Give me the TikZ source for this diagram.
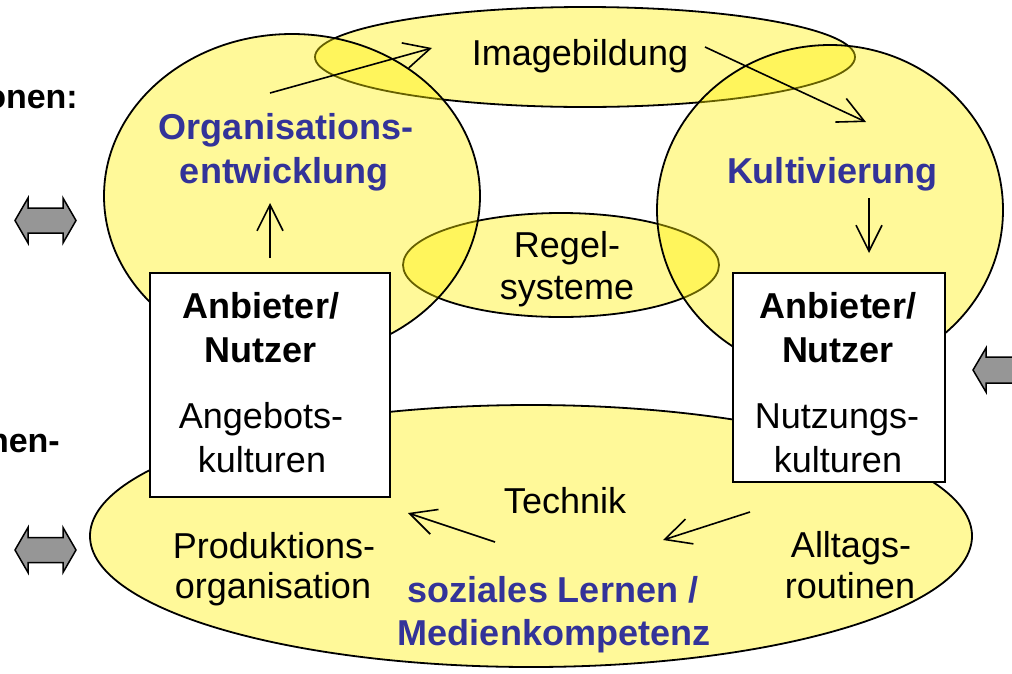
\documentclass[tikz,border=0pt]{standalone}
\usepackage{fontspec}
\setmainfont{Liberation Sans}
\usetikzlibrary{arrows.meta,shapes.geometric}
\definecolor{blobyellow}{RGB}{255,240,0}
\definecolor{orgblue}{RGB}{51,51,153}
\definecolor{arrowgray}{RGB}{150,150,150}
\begin{document}
\begin{tikzpicture}[x=1pt,y=-1pt,
  blob/.style={ellipse, draw=black, line width=1.8pt, fill=blobyellow,
    fill opacity=0.4, draw opacity=1, inner sep=0pt, outer sep=0pt},
  actorbox/.style={rectangle, draw=black, fill=white, line width=2.4pt, inner sep=0pt},
  txt/.style={font=\fontsize{36}{43}\selectfont, inner sep=0pt, anchor=base},
  btxt/.style={txt, font=\fontsize{36}{43}\selectfont\bfseries},
  sidetxt/.style={txt, font=\fontsize{34}{40}\selectfont\bfseries},
  bluetxt/.style={btxt, text=orgblue},
  flow/.style={line width=1.6pt, -{Straight Barb[length=26pt,width=26pt,line width=1.6pt]}},
  bigarrow/.style={draw=black, fill=arrowgray, line width=1.5pt, line join=miter}
]
\useasboundingbox (0,0) rectangle (1012,673);

% ellipses
\node[blob, minimum width=540pt, minimum height=100pt] (imgE) at (585,57) {};
\node[blob, minimum width=316pt, minimum height=104pt] (regE) at (561,265) {};
\node[blob, minimum width=376pt, minimum height=324pt] (orgE) at (292,196) {};
\node[blob, minimum width=346pt, minimum height=330pt] (kulE) at (830,210) {};
\node[blob, minimum width=882pt, minimum height=262pt] (lernE) at (531,536) {};

% boxes
\node[actorbox, minimum width=240pt, minimum height=224pt] (lbox) at (270,385) {};
\node[actorbox, minimum width=212pt, minimum height=209pt] (rbox) at (839,377.5) {};

% texts
\node[txt] (timg) at (580,65) {Imagebildung};
\node[bluetxt] (torg1) at (286,139) {Organisations-};
\node[bluetxt] (torg2) at (284,183) {entwicklung};
\node[bluetxt] (tkul) at (832,183) {Kultivierung};
\node[txt] (treg1) at (567,257) {Regel-};
\node[txt] (treg2) at (567,299) {systeme};
\node[btxt] (tla1) at (261,318) {Anbieter/};
\node[btxt] (tla2) at (261,362) {Nutzer};
\node[txt] (tla3) at (261,428) {Angebots-};
\node[txt] (tla4) at (262,472) {kulturen};
\node[btxt] (tra1) at (838,318) {Anbieter/};
\node[btxt] (tra2) at (838,362) {Nutzer};
\node[txt] (tra3) at (837,428) {Nutzungs-};
\node[txt] (tra4) at (838,472) {kulturen};
\node[txt] (ttech) at (565,513) {Technik};
\node[txt] (tprod1) at (274,558) {Produktions-};
\node[txt] (tprod2) at (273,598) {organisation};
\node[bluetxt] (tlern1) at (553,602) {soziales Lernen /};
\node[bluetxt] (tlern2) at (554,645) {Medienkompetenz};
\node[txt] (talt1) at (851,557) {Alltags-};
\node[txt] (talt2) at (850,598) {routinen};
\node[sidetxt, anchor=base east] (tleft1) at (78,108) {onen:};
\node[sidetxt, anchor=base east] (tleft2) at (60,452) {nen-};

% connector coordinates
\coordinate (a1s) at (270,93);   \coordinate (a1e) at (432,48);
\coordinate (a2s) at (705,47);   \coordinate (a2e) at (866,122);
\coordinate (a3s) at (270,258);  \coordinate (a3e) at (270,203);
\coordinate (a4s) at (869,198);  \coordinate (a4e) at (869,253);
\coordinate (a5s) at (750,512);  \coordinate (a5e) at (663,540);
\coordinate (a6s) at (495,542);  \coordinate (a6e) at (408,513);

\draw[flow] (a1s) -- (a1e);
\draw[flow] (a2s) -- (a2e);
\draw[flow] (a3s) -- (a3e);
\draw[flow] (a4s) -- (a4e);
\draw[flow] (a5s) -- (a5e);
\draw[flow] (a6s) -- (a6e);

% grey block arrows
\draw[bigarrow] (15,220.5) -- (28,198) -- (28,208) -- (63,208) -- (63,198) -- (76,220.5)
  -- (63,243) -- (63,233) -- (28,233) -- (28,243) -- cycle;
\draw[bigarrow] (15,550) -- (28,527.5) -- (28,537.5) -- (63,537.5) -- (63,527.5) -- (76,550)
  -- (63,572.5) -- (63,562.5) -- (28,562.5) -- (28,572.5) -- cycle;
\draw[bigarrow] (973,370) -- (986,348) -- (986,357) -- (1030,357) -- (1030,383)
  -- (986,383) -- (986,392) -- cycle;
\end{tikzpicture}
\end{document}
